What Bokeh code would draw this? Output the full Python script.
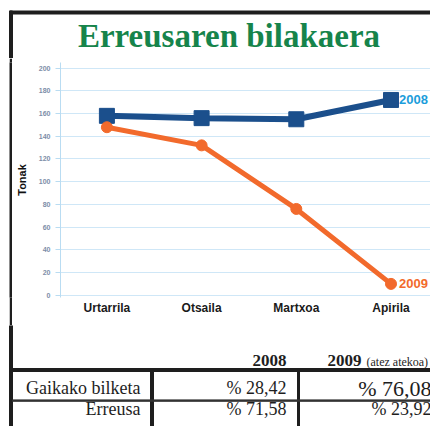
from bokeh.plotting import figure
from bokeh.models import Range1d, FixedTicker
from bokeh.layouts import column, row
from bokeh.embed import file_html
from bokeh.resources import INLINE
from bokeh.core.properties import value

# ---------------- data ----------------
title_text = "Erreusaren bilakaera"
months = ["Urtarrila", "Otsaila", "Martxoa", "Apirila"]
tonak_2008 = [158, 156, 155, 172]
tonak_2009 = [148, 132, 76, 10]
series_names = ["2008", "2009"]
y_ticks = [0, 20, 40, 60, 80, 100, 120, 140, 160, 180, 200]
y_label = "Tonak"

table_cols = ["2008", "2009"]
table_note = "(atez atekoa)"
table_rows = ["Gaikako bilketa", "Erreusa"]
pct_2008 = ["% 28,42", "% 71,58"]
pct_2009 = ["% 76,08", "% 23,92"]

# ---------------- styles ----------------
GREEN = "#16844b"
NAVY = "#1b4f8c"
ORANGE = "#f26a2c"
CYAN = "#1b9ddb"
INK = "#1e1e1e"
SERIF = value("Liberation Serif")
SANS = value("Liberation Sans")


def blank(w, h, xr, yr, fill="white"):
    f = figure(width=w, height=h, x_range=Range1d(*xr), y_range=Range1d(*yr),
               x_axis_location=None, y_axis_location=None,
               output_backend="svg", toolbar_location=None, min_border=0)
    f.grid.visible = False
    f.outline_line_color = None
    f.background_fill_color = fill
    f.border_fill_color = fill
    return f


# ---------------- title strip (page y 0..58) ----------------
T = blank(430, 58, (0, 430), (58, 0))
T.quad(left=[9], right=[430], top=[10.5], bottom=[13.5], color=INK)
T.quad(left=[9], right=[12], top=[10.5], bottom=[58], color=INK)
T.text(x=[228.5], y=[35.5], text=[title_text], text_font=SERIF,
       text_font_style="bold", text_font_size="33px", text_color=GREEN,
       text_align="center", text_baseline="middle")

# ---------------- left border pieces (page x 0..12, y 58..325) ----------------
PAD = blank(9, 267, (0, 9), (325, 58))
BAR = blank(3, 267, (9, 12), (325, 58), fill=INK)

# ---------------- chart (page x 12..430, y 58..325) ----------------
xs = list(range(len(months)))
A = figure(width=418, height=267, x_range=Range1d(-0.49, 3.417),
           y_range=Range1d(-2, 205), min_border_left=43, min_border_right=0,
           min_border_top=4, min_border_bottom=28,
           output_backend="svg", toolbar_location=None)
A.outline_line_color = None
A.xgrid.visible = False
A.ygrid.ticker = FixedTicker(ticks=y_ticks)
A.ygrid.grid_line_color = "#cfe7f7"
A.ygrid.grid_line_width = 1

A.xaxis.ticker = FixedTicker(ticks=xs)
A.xaxis.major_label_overrides = {i: m for i, m in enumerate(months)}
A.xaxis.axis_line_color = None
A.xaxis.major_tick_line_color = None
A.xaxis.minor_tick_line_color = None
A.xaxis.major_label_text_font = "Liberation Sans"
A.xaxis.major_label_text_font_style = "bold"
A.xaxis.major_label_text_font_size = "12px"
A.xaxis.major_label_text_color = "#1a1a1a"
A.xaxis.major_label_standoff = -3

A.yaxis.ticker = FixedTicker(ticks=y_ticks)
A.yaxis.axis_line_color = "#b9dcf2"
A.yaxis.major_tick_line_color = "#b9dcf2"
A.yaxis.major_tick_out = 5
A.yaxis.major_tick_in = 0
A.yaxis.minor_tick_line_color = None
A.yaxis.major_label_text_font = "Liberation Sans"
A.yaxis.major_label_text_font_style = "bold"
A.yaxis.major_label_text_font_size = "7px"
A.yaxis.major_label_text_color = "#7d8ea8"
A.yaxis.major_label_standoff = 5
A.yaxis.axis_label = y_label
A.yaxis.axis_label_text_font = "Liberation Sans"
A.yaxis.axis_label_text_font_style = "bold"
A.yaxis.axis_label_text_font_size = "11px"
A.yaxis.axis_label_text_color = "#111111"
A.yaxis.axis_label_standoff = 8

A.line(xs, tonak_2008, line_width=6, color=NAVY)
A.scatter(xs, tonak_2008, marker="square", size=15, color=NAVY)
A.line(xs, tonak_2009, line_width=5, color=ORANGE)
A.scatter(xs, tonak_2009, marker="circle", size=11, color=ORANGE)

A.text(x=[xs[-1], xs[-1]], y=[tonak_2008[-1], tonak_2009[-1]], text=series_names,
       x_offset=8, text_color=[CYAN, ORANGE], text_font=SANS,
       text_font_style="bold", text_font_size="13px", text_baseline="middle")

# ---------------- table (page y 325..426) ----------------
B = blank(430, 101, (0, 430), (426, 325))
B.quad(left=[9], right=[12], top=[325], bottom=[426], color=INK)
B.quad(left=[9], right=[430], top=[368], bottom=[371], color=INK)
B.quad(left=[150], right=[153], top=[369], bottom=[426], color=INK)
B.quad(left=[297], right=[299], top=[369], bottom=[426], color=INK)
B.quad(left=[12], right=[430], top=[399.4], bottom=[400.8], color="#333333")

B.text(x=[286], y=[359.5], text=[table_cols[0]], text_font=SERIF, text_font_style="bold",
       text_font_size="17px", text_color=INK, text_align="right", text_baseline="middle")
B.text(x=[327], y=[359.5], text=[table_cols[1]], text_font=SERIF, text_font_style="bold",
       text_font_size="17px", text_color=INK, text_align="left", text_baseline="middle")
B.text(x=[366], y=[361], text=[table_note], text_font=SERIF,
       text_font_size="12px", text_color=INK, text_align="left", text_baseline="middle")

B.text(x=[140, 140], y=[387, 408], text=table_rows, text_font=SERIF,
       text_font_size="18px", text_color=INK, text_align="right", text_baseline="middle")
B.text(x=[286, 286], y=[387, 408], text=pct_2008, text_font=SERIF,
       text_font_size="18px", text_color=INK, text_align="right", text_baseline="middle")
B.text(x=[431], y=[387.5], text=[pct_2009[0]], text_font=SERIF,
       text_font_size="22px", text_color=INK, text_align="right", text_baseline="middle")
B.text(x=[431], y=[408], text=[pct_2009[1]], text_font=SERIF,
       text_font_size="18px", text_color=INK, text_align="right", text_baseline="middle")

layout = column(T, row(PAD, BAR, A), B)
open("out.html", "w").write(file_html(layout, INLINE))
